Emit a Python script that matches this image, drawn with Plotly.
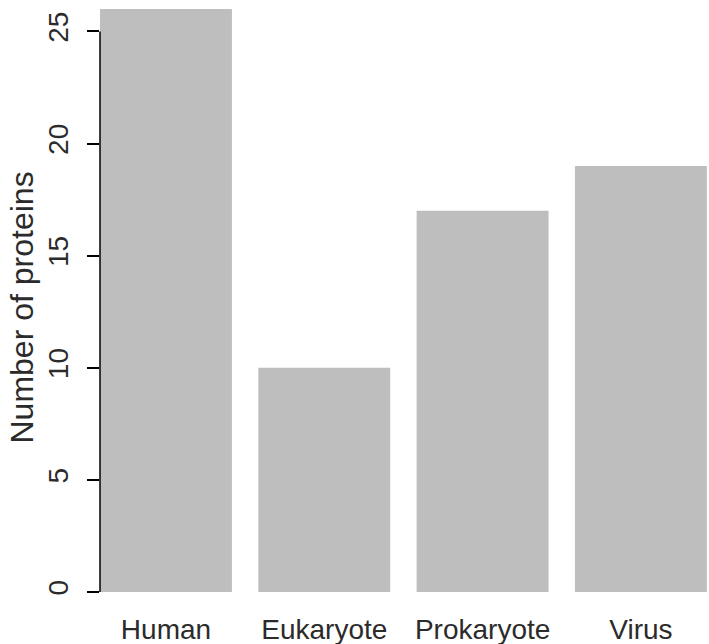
import plotly.graph_objects as go

categories = ["Human", "Eukaryote", "Prokaryote", "Virus"]
counts = [26, 10, 17, 19]
y_ticks = [0, 5, 10, 15, 20, 25]
y_title = "Number of proteins"

FONT = "Liberation Sans, Arial, Helvetica, sans-serif"
TXT = "#2b2b2b"

fig = go.Figure(go.Bar(x=categories, y=counts, marker=dict(color="#BEBEBE", line=dict(width=0)),
                       width=0.8333))

fig.update_layout(
    width=709, height=644,
    margin=dict(l=100, r=0, t=0, b=52),
    plot_bgcolor="white", paper_bgcolor="white",
    showlegend=False,
    font=dict(family=FONT, color=TXT, size=28),
    xaxis=dict(range=[-0.4167, 3.43], showline=False, showgrid=False, zeroline=False,
               ticks="", tickfont=dict(size=28, color=TXT), ticklabelstandoff=18),
    yaxis=dict(range=[0, 26.4], showline=False, showgrid=False, zeroline=False,
               tickvals=y_ticks, ticktext=[str(v) for v in y_ticks],
               ticks="outside", ticklen=12, tickwidth=1.5, tickcolor="#000",
               tickangle=-90, tickfont=dict(size=28, color=TXT), ticklabelstandoff=8),
    annotations=[dict(text=y_title, xref="paper", yref="paper", x=0, y=0.4806,
                      xanchor="center", yanchor="middle", xshift=-78, textangle=-90,
                      showarrow=False, font=dict(size=32, color=TXT))],
    shapes=[dict(type="line", xref="paper", x0=0, x1=0, yref="y", y0=y_ticks[0], y1=y_ticks[-1],
                 line=dict(color="#000", width=1.5))],
)

fig.write_html("out.html")
